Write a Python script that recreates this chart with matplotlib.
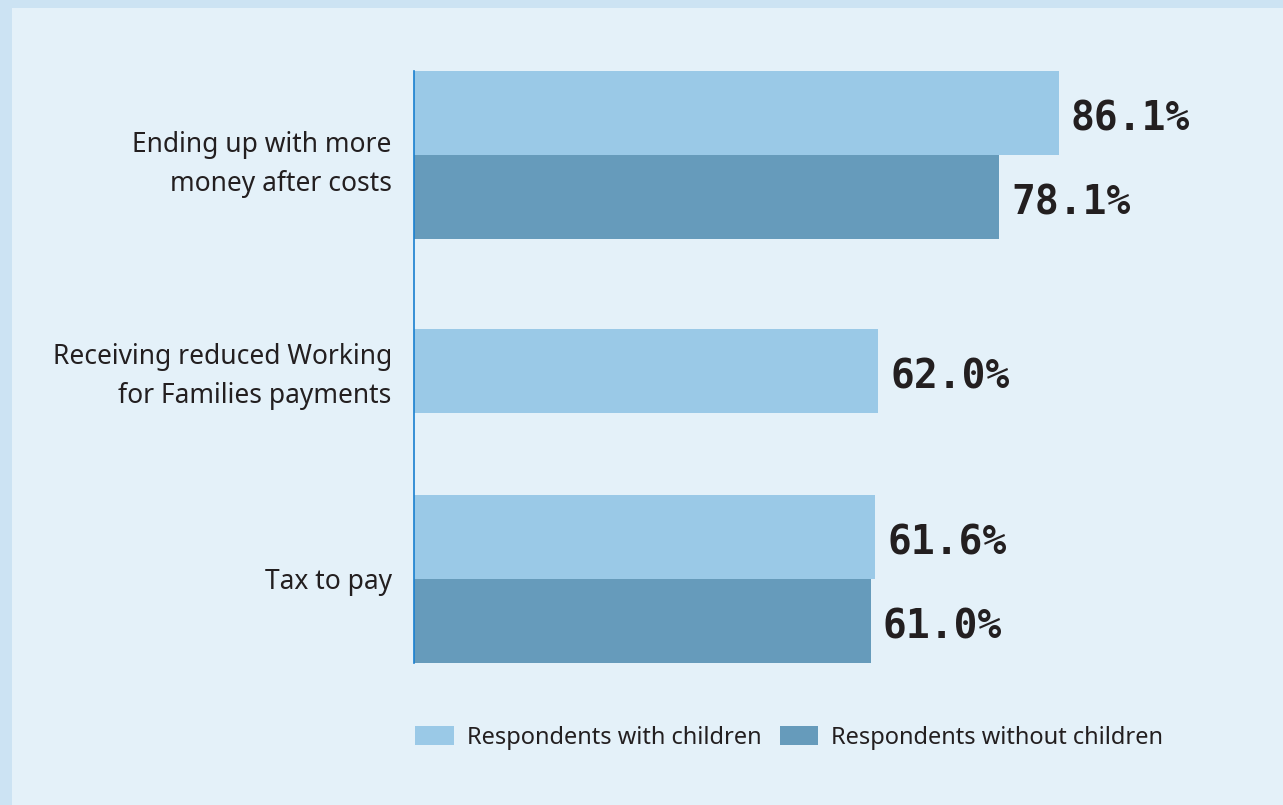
import matplotlib.pyplot as plt
from matplotlib.patches import Patch, Rectangle

# survey results, percent of respondents
categories = ['Ending up with more\nmoney after costs',
              'Receiving reduced Working\nfor Families payments',
              'Tax to pay']
with_children = [86.1, 62.0, 61.6]
without_children = [78.1, None, 61.0]
series_names = ['Respondents with children', 'Respondents without children']

light = '#9ac9e7'
dark = '#669bbb'
txt = '#231f20'

W, H = 1283, 805
fig = plt.figure(figsize=(W / 100, H / 100), dpi=100)
fig.patch.set_facecolor('#cce3f3')
# inner panel (darker strip only on top and left)
fig.add_artist(Rectangle((12 / W, 0), 1, 1 - 8 / H, transform=fig.transFigure,
                         facecolor='#e4f1f9', edgecolor='none', zorder=-10))

ax = fig.add_axes([414 / W, 1 - 663 / H, (W - 414) / W, (663 - 71) / H])
ax.set_facecolor('none')

h = 0.396
for i in range(len(categories)):
    if without_children[i] is None:
        # single bar sits in the middle of its slot
        ends = [(i + 0.02, with_children[i])]
        ax.barh(i + 0.02, with_children[i], height=h, color=light)
    else:
        ax.barh(i - h / 2, with_children[i], height=h, color=light)
        ax.barh(i + h / 2, without_children[i], height=h, color=dark)
        ends = [(i - h / 2, with_children[i]), (i + h / 2, without_children[i])]
    for y, v in ends:
        ax.annotate(f'{v:.1f}%', (v, y), xytext=(8.6, -4), textcoords='offset points',
                    ha='left', va='center', fontsize=28.5, fontweight='bold',
                    family='DejaVu Sans Mono', color=txt)

ax.set_xlim(0, (W - 414) / 7.49)
ax.set_ylim(2 + 84 / 212, -84 / 212)
ax.set_yticks(range(len(categories)))
ax.set_yticklabels(categories, fontsize=19, family='Noto Sans', color=txt,
                   linespacing=1.55)
ax.tick_params(axis='y', length=0, pad=16)
ax.set_xticks([])
for s in ['top', 'right', 'bottom']:
    ax.spines[s].set_visible(False)
ax.spines['left'].set_color('#1a80d0')
ax.spines['left'].set_linewidth(1.2)

handles = [Patch(facecolor=light, edgecolor='none'), Patch(facecolor=dark, edgecolor='none')]
fig.legend(handles, series_names, loc='center left', bbox_to_anchor=(394 / W, 1 - 738 / H),
           ncol=2, frameon=False, prop={'family': 'Noto Sans', 'size': 17},
           handlelength=1.65, handleheight=0.85, handletextpad=0.55, columnspacing=0.75,
           labelcolor=txt)

fig.savefig('out.png', dpi=100, facecolor=fig.get_facecolor())
